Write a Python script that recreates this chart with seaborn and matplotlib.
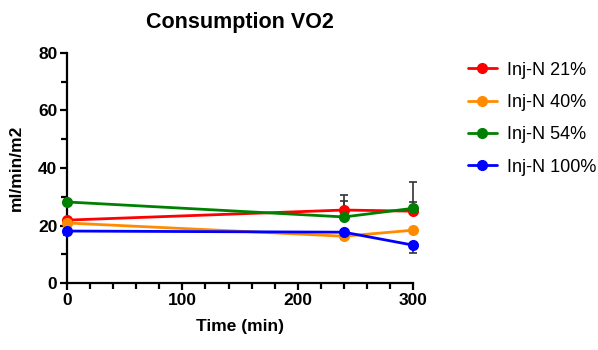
import matplotlib
matplotlib.use("Agg")
import matplotlib.pyplot as plt
import seaborn as sns
import pandas as pd
import numpy as np
from matplotlib.ticker import MultipleLocator

sns.set_style("ticks")
plt.rcParams['font.family'] = ['Liberation Sans', 'DejaVu Sans']
plt.rcParams['text.color'] = 'black'
plt.rcParams['axes.labelcolor'] = 'black'
plt.rcParams['xtick.color'] = 'black'
plt.rcParams['ytick.color'] = 'black'

times = [0, 240, 300]
series = ["Inj-N 21%", "Inj-N 40%", "Inj-N 54%", "Inj-N 100%"]
colors = ["#ff0000", "#ff8c00", "#008000", "#0000ff"]
vals_21 = [21.9, 25.4, 25.0]
vals_40 = [20.9, 16.3, 18.4]
vals_54 = [28.2, 23.0, 26.0]
vals_100 = [18.1, 17.7, 13.2]
err_up_21 = [0.0, 5.2, 3.3]
err_up_54 = [0.0, 5.6, 9.2]
err_dn_100 = [1.5, 0.0, 2.8]

df = pd.DataFrame({
    "Time": times * 4,
    "Value": vals_21 + vals_40 + vals_54 + vals_100,
    "Group": sum([[s] * 3 for s in series], []),
})

fig = plt.figure(figsize=(5.98, 3.5), dpi=100)
ax = fig.add_axes([0.112, 0.191, 0.579, 0.658])

ekw = dict(fmt="none", ecolor="#333333", elinewidth=1.2, capsize=3, capthick=1.2,
           clip_on=False, zorder=1)
ax.errorbar(times, vals_21, yerr=[np.zeros(3), err_up_21], **ekw)
ax.errorbar(times, vals_54, yerr=[np.zeros(3), err_up_54], **ekw)
ax.errorbar(times, vals_100, yerr=[err_dn_100, np.zeros(3)], **ekw)

sns.lineplot(data=df, x="Time", y="Value", hue="Group", hue_order=series,
             palette=colors, marker="o", markersize=8, markeredgewidth=0,
             linewidth=2, ax=ax, legend=False, zorder=3)
for ln in ax.lines:
    ln.set_clip_on(False)

ax.set_xlim(0, 300)
ax.set_ylim(0, 80)
ax.xaxis.set_major_locator(MultipleLocator(100))
ax.xaxis.set_minor_locator(MultipleLocator(20))
ax.yaxis.set_major_locator(MultipleLocator(20))
ax.yaxis.set_minor_locator(MultipleLocator(10))
sns.despine(ax=ax)
for sp in ["left", "bottom"]:
    ax.spines[sp].set_linewidth(1.6)
    ax.spines[sp].set_color("black")
ax.tick_params(which="major", length=5, width=1.6, color="black", labelsize=12.5, pad=2)
ax.tick_params(which="minor", length=4, width=1.6, color="black")
for lbl in ax.get_xticklabels() + ax.get_yticklabels():
    lbl.set_fontweight("bold")
ax.set_xlabel("Time (min)", fontsize=12.5, fontweight="bold", labelpad=8)
ax.set_ylabel("ml/min/m2", fontsize=12.5, fontweight="bold", labelpad=10)
ax.set_title("Consumption VO2", fontsize=15.5, fontweight="bold", pad=18)

handles = [plt.Line2D([0], [0], color=c, marker="o", markersize=7, linewidth=2) for c in colors]
fig.legend(handles, series, loc="upper left", bbox_to_anchor=(0.755, 0.87),
           frameon=False, fontsize=13, handlelength=1.6, labelspacing=0.85,
           handletextpad=0.6)

fig.savefig("out.png", dpi=100)
